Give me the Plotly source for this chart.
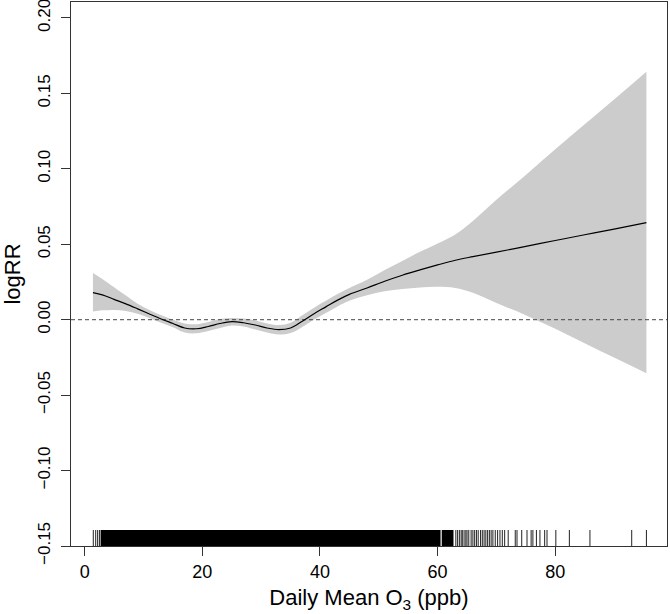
import plotly.graph_objects as go

# ---- data ----
o3 = [1.4, 3, 5, 7, 9, 11, 13, 15, 17, 19, 21, 23, 25, 27, 29, 31, 33, 35, 37, 39,
      41, 43, 45, 48, 51, 54, 57, 60, 63, 66, 70, 75, 80, 85, 90, 95.5]
fit = [0.018, 0.0165, 0.0135, 0.0105, 0.0072, 0.0038, 0.0005, -0.0025, -0.0055, -0.006,
       -0.0045, -0.0025, -0.0013, -0.002, -0.0035, -0.0055, -0.0066, -0.0055, -0.001, 0.004,
       0.0085, 0.013, 0.0168, 0.021, 0.0255, 0.0295, 0.033, 0.0363, 0.0394, 0.0418,
       0.0448, 0.0486, 0.0525, 0.0563, 0.0601, 0.0643]
upper = [0.031, 0.027, 0.0215, 0.016, 0.0105, 0.0065, 0.003, 0.0, -0.0025, -0.003,
         -0.0015, 0.0005, 0.0012, 0.0008, -0.0005, -0.0025, -0.0035, -0.002, 0.003, 0.008,
         0.0125, 0.017, 0.021, 0.0265, 0.033, 0.039, 0.045, 0.0505, 0.0565, 0.0655,
         0.0795, 0.096, 0.113, 0.1295, 0.146, 0.1644]
lower = [0.0055, 0.0062, 0.0065, 0.0058, 0.004, 0.0012, -0.002, -0.005, -0.0085, -0.009,
         -0.0075, -0.0055, -0.0038, -0.0045, -0.0065, -0.0085, -0.0098, -0.0088, -0.0048, 0.0002,
         0.0045, 0.0088, 0.0125, 0.0162, 0.0188, 0.0203, 0.0213, 0.0218, 0.021, 0.0178,
         0.011, 0.003, -0.006, -0.0156, -0.0251, -0.0355]

# rug: dense intervals (solid band) and individual observations
rug_dense = [(2.7, 60.5), (60.7, 62.7)]
rug_ticks = [1.46, 1.87, 2.2, 2.5,
             63.1, 63.4, 63.7, 64.0, 64.2, 64.5, 64.8, 65.0, 65.3, 65.7, 66.0, 66.3,
             66.6, 66.9, 67.3, 67.6, 67.9, 68.2, 68.5, 68.8, 69.1, 69.4, 69.8, 70.2,
             70.6, 71.0, 71.4, 72.0, 73.2, 73.5, 74.3, 75.2, 75.9, 76.2, 76.8, 77.4,
             78.2, 78.6, 80.1, 82.4, 85.9, 93.0, 95.5]

ytick_vals = [-0.15, -0.10, -0.05, 0.0, 0.05, 0.10, 0.15, 0.20]
xtick_vals = [0, 20, 40, 60, 80]

y_min, y_max = -0.15, 0.2106
x_min, x_max = -2.33, 99.0
rug_len = 0.0106

fig = go.Figure()

# confidence band
fig.add_trace(go.Scatter(x=o3, y=upper, mode="lines", line=dict(width=0, shape="spline"),
                         hoverinfo="skip", showlegend=False))
fig.add_trace(go.Scatter(x=o3, y=lower, mode="lines", line=dict(width=0, shape="spline"),
                         fill="tonexty", fillcolor="#CCCCCC", hoverinfo="skip", showlegend=False))

# zero reference line
fig.add_trace(go.Scatter(x=[x_min, x_max], y=[0, 0], mode="lines",
                         line=dict(color="#444444", width=1, dash="4px,3px"),
                         hoverinfo="skip", showlegend=False))

# fitted curve
fig.add_trace(go.Scatter(x=o3, y=fit, mode="lines",
                         line=dict(color="black", width=1.2, shape="spline"),
                         showlegend=False))

# rug dense band(s)
for lo, hi in rug_dense:
    fig.add_trace(go.Scatter(x=[lo, hi, hi, lo, lo],
                             y=[y_min, y_min, y_min + rug_len, y_min + rug_len, y_min],
                             mode="lines", fill="toself", fillcolor="black",
                             line=dict(width=0), hoverinfo="skip", showlegend=False))

# rug individual ticks
rx, ry = [], []
for v in rug_ticks:
    rx += [v, v, None]
    ry += [y_min, y_min + rug_len, None]
fig.add_trace(go.Scatter(x=rx, y=ry, mode="lines", line=dict(color="#222222", width=1),
                         hoverinfo="skip", showlegend=False))

font = dict(family="Liberation Sans, Arial, sans-serif", size=18, color="black")
yfont = dict(family="Liberation Sans, Arial, sans-serif", size=17, color="black")

fig.update_layout(
    width=670, height=614,
    margin=dict(l=71, r=3, t=2, b=68),
    paper_bgcolor="white", plot_bgcolor="white",
    font=font,
    xaxis=dict(range=[x_min, x_max], tickvals=xtick_vals, ticks="outside", ticklen=9,
               tickcolor="#333333", showgrid=False, zeroline=False,
               showline=True, linecolor="#333333", linewidth=1, mirror=True,
               automargin=False, ticklabeloverflow="allow",
               title=dict(text="Daily Mean O<sub>3</sub> (ppb)", standoff=9),
               tickfont=font),
    yaxis=dict(range=[y_min, y_max], tickvals=ytick_vals, tickformat=".2f", tickangle=-90,
               ticks="outside", ticklen=9, tickcolor="#333333", showgrid=False, zeroline=False,
               showline=True, linecolor="#333333", linewidth=1, mirror=True,
               automargin=False, ticklabeloverflow="allow", ticklabelstandoff=4,
               title=dict(text="logRR", standoff=8), tickfont=yfont),
)

fig.write_html("out.html", config={"displayModeBar": False},
               post_script="document.body.style.margin='0';document.body.style.overflow='hidden';")
